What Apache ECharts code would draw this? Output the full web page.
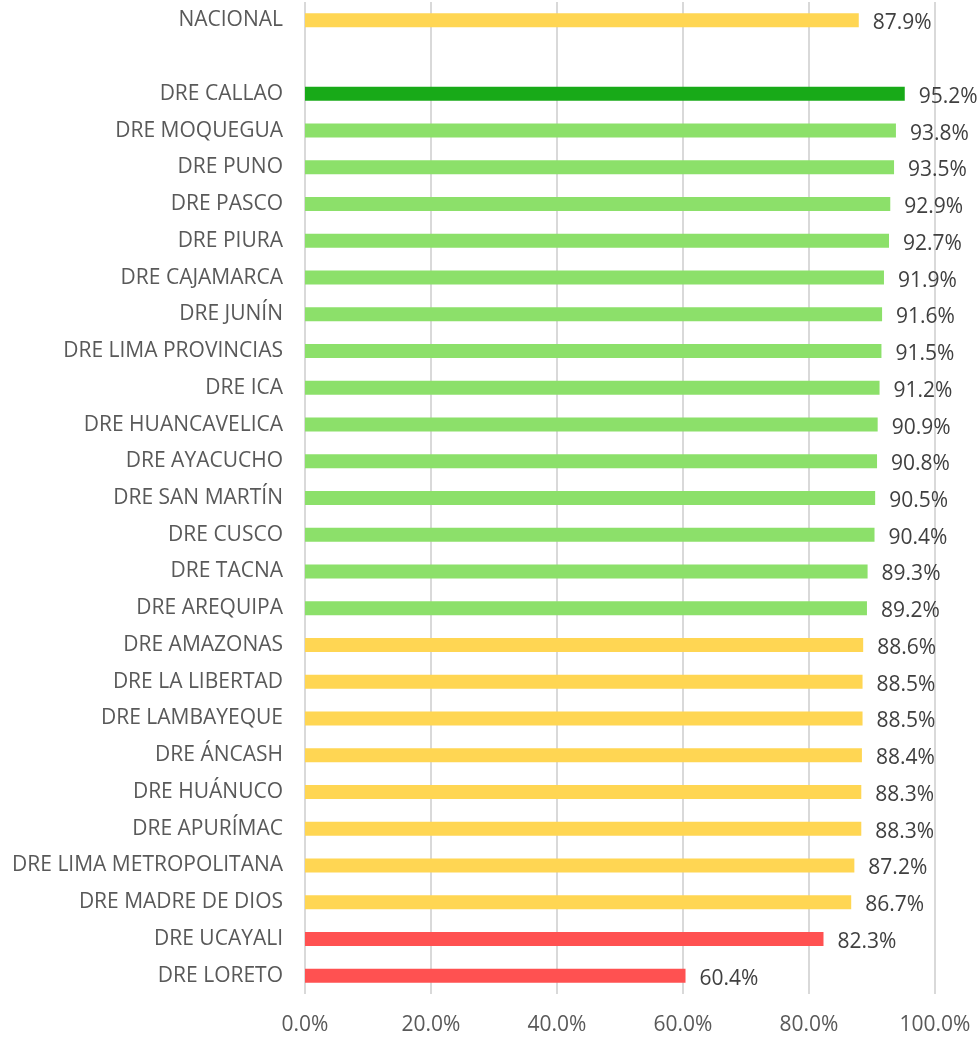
<!DOCTYPE html>
<html lang="es">
<head>
    <meta charset="UTF-8">
    <title>DRE</title>
    <script src="https://cdn.jsdelivr.net/npm/echarts@6.0.0/dist/echarts.min.js"></script>
    <style>
        html, body { margin: 0; padding: 0; background: #fff; }
        #main { width: 980px; height: 1038px; }
    </style>
</head>
<body>
    <div id="main"></div>
    <script>
        // categorias (de arriba hacia abajo), '' = fila vacia
        var categories = ['NACIONAL', '', 'DRE CALLAO', 'DRE MOQUEGUA', 'DRE PUNO', 'DRE PASCO', 'DRE PIURA',
            'DRE CAJAMARCA', 'DRE JUNÍN', 'DRE LIMA PROVINCIAS', 'DRE ICA', 'DRE HUANCAVELICA', 'DRE AYACUCHO',
            'DRE SAN MARTÍN', 'DRE CUSCO', 'DRE TACNA', 'DRE AREQUIPA', 'DRE AMAZONAS', 'DRE LA LIBERTAD',
            'DRE LAMBAYEQUE', 'DRE ÁNCASH', 'DRE HUÁNUCO', 'DRE APURÍMAC', 'DRE LIMA METROPOLITANA',
            'DRE MADRE DE DIOS', 'DRE UCAYALI', 'DRE LORETO'];
        var values = [87.9, null, 95.2, 93.8, 93.5, 92.9, 92.7, 91.9, 91.6, 91.5, 91.2, 90.9, 90.8,
            90.5, 90.4, 89.3, 89.2, 88.6, 88.5, 88.5, 88.4, 88.3, 88.3, 87.2, 86.7, 82.3, 60.4];
        // grupo de color por fila
        var groups = ['y', '', 'dg', 'g', 'g', 'g', 'g', 'g', 'g', 'g', 'g', 'g', 'g', 'g', 'g', 'g', 'g',
            'y', 'y', 'y', 'y', 'y', 'y', 'y', 'y', 'r', 'r'];
        var xTicks = [0, 20, 40, 60, 80, 100];

        var palette = { y: '#FFD653', g: '#8CE06A', dg: '#18AA18', r: '#FF5151' };

        var data = values.map(function (v, i) {
            if (v === null) return '-';
            return { value: v, itemStyle: { color: palette[groups[i]] } };
        });

        var chart = echarts.init(document.getElementById('main'));
        var option = {
            backgroundColor: '#fff',
            animation: false,
            textStyle: { fontFamily: 'Open Sans' },
            grid: { left: 305, right: 45, top: 2, bottom: 44, containLabel: false },
            xAxis: {
                type: 'value',
                min: xTicks[0],
                max: xTicks[xTicks.length - 1],
                interval: 20,
                axisLine: { show: false },
                axisTick: { show: false },
                splitLine: { lineStyle: { color: '#D9D9D9', width: 2 } },
                axisLabel: {
                    color: '#595959',
                    fontSize: 21,
                    margin: 21,
                    formatter: function (v) { return v.toFixed(1) + '%'; }
                }
            },
            yAxis: {
                type: 'category',
                inverse: true,
                data: categories,
                axisLine: { show: false },
                axisTick: { show: false },
                axisLabel: { color: '#595959', fontSize: 21, margin: 22, padding: [4, 0, 0, 0] }
            },
            series: [{
                type: 'bar',
                data: data,
                barWidth: 14,
                label: {
                    show: true,
                    position: 'right',
                    distance: 14,
                    offset: [0, 3],
                    color: '#404040',
                    fontSize: 21,
                    formatter: function (p) { return p.value.toFixed(1) + '%'; }
                }
            }]
        };
        chart.setOption(option);
    </script>
</body>
</html>
